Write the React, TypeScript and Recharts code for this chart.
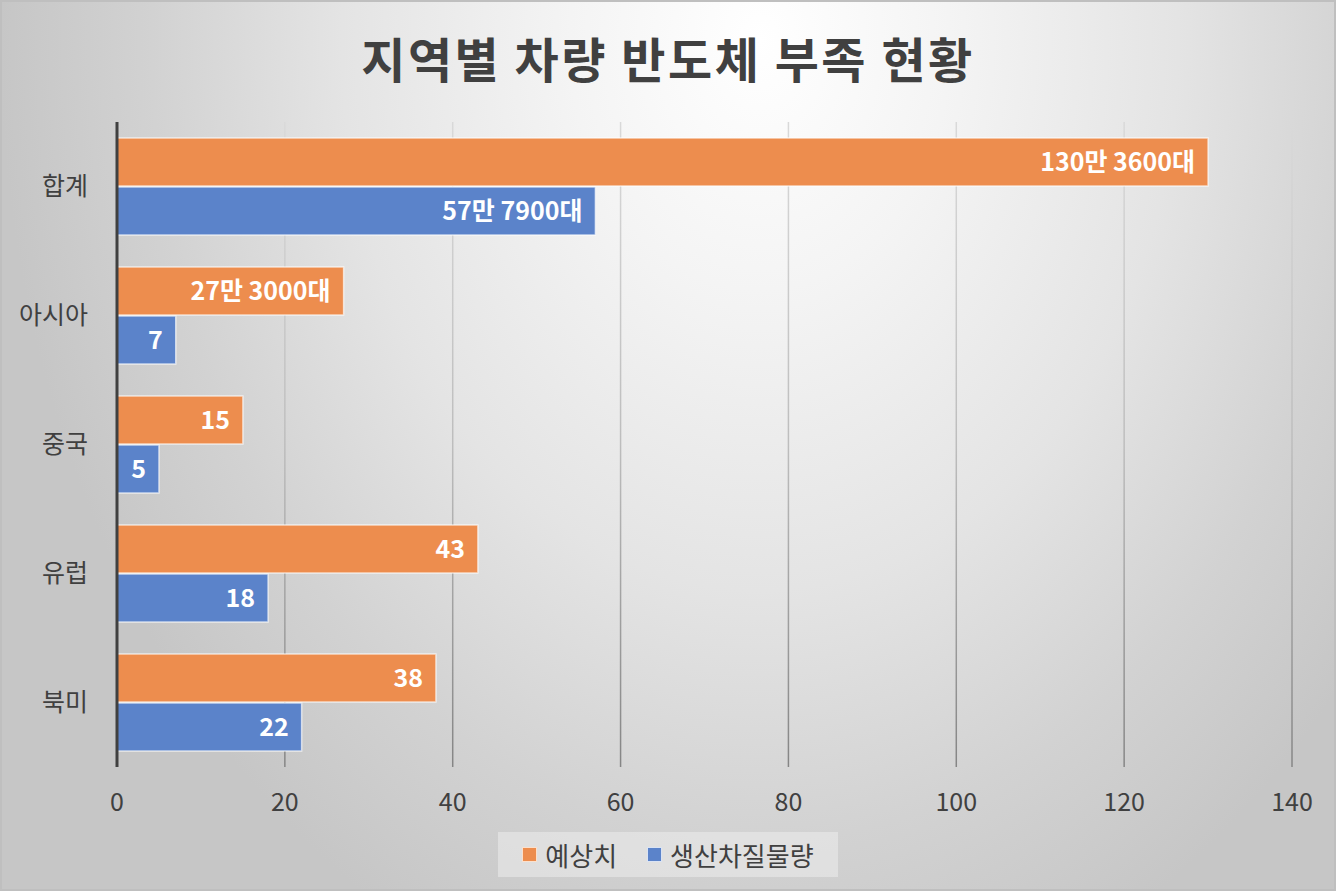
import React from 'react';
import { BarChart, Bar, XAxis, YAxis, CartesianGrid, LabelList } from 'recharts';

const regions = ['합계', '아시아', '중국', '유럽', '북미'];
const forecast = [130, 27, 15, 43, 38];
const forecastLabels = ['130만 3600대', '27만 3000대', '15', '43', '38'];
const shortfall = [57, 7, 5, 18, 22];
const shortfallLabels = ['57만 7900대', '7', '5', '18', '22'];
const xTicks = [0, 20, 40, 60, 80, 100, 120, 140];

const data = regions.map((name, i) => ({
	name,
	forecast: forecast[i],
	forecastLabel: forecastLabels[i],
	shortfall: shortfall[i],
	shortfallLabel: shortfallLabels[i],
}));

const FONT = '"Noto Sans CJK KR", "Noto Sans", sans-serif';
const ORANGE = '#ED8D4E';
const BLUE = '#5B83CA';

const App: React.FC = () => {
	return (
		<div
			style={{
				position: 'absolute',
				left: 0,
				top: 0,
				width: 1336,
				height: 891,
				fontFamily: FONT,
				background:
					'radial-gradient(ellipse 760px 1000px at 760px 40px, #ffffff 0%, #f4f4f4 25%, #e4e4e4 55%, #d2d2d2 80%, #c6c6c6 100%)',
				boxShadow: 'inset 0 0 0 2px #bfbfbf',
				overflow: 'hidden',
			}}
		>
			<div
				style={{
					position: 'absolute',
					left: 0,
					top: 27,
					width: 1336,
					textAlign: 'center',
					fontSize: 48,
					fontWeight: 700,
					letterSpacing: 2.5,
					color: '#404040',
					lineHeight: '60px',
				}}
			>
				지역별 차량 반도체 부족 현황
			</div>
			<BarChart
				width={1336}
				height={891}
				data={data}
				layout="vertical"
				margin={{ top: 122, right: 44, left: 0, bottom: 84 }}
				barCategoryGap={16}
				barGap={1}
				style={{ position: 'absolute', left: 0, top: 0 }}
			>
				<defs>
					<linearGradient id="gridGrad" gradientUnits="userSpaceOnUse" x1="0" y1="122" x2="0" y2="767">
						<stop offset="0%" stopColor="#d9d9d9" />
						<stop offset="50%" stopColor="#bdbdbd" />
						<stop offset="100%" stopColor="#858585" />
					</linearGradient>
				</defs>
				<CartesianGrid horizontal={false} stroke="url(#gridGrad)" strokeWidth={1.5} />
				<XAxis
					type="number"
					domain={[0, 140]}
					ticks={xTicks}
					axisLine={false}
					tickLine={false}
					tickSize={0}
					tickMargin={26}
					height={40}
					tick={{ fontSize: 25, fill: '#404040', fontFamily: FONT }}
				/>
				<YAxis
					type="category"
					dataKey="name"
					width={117}
					axisLine={{ stroke: '#404040', strokeWidth: 3 }}
					tickLine={false}
					tickSize={0}
					tickMargin={29}
					tick={{ fontSize: 25, fill: '#404040', fontFamily: FONT }}
				/>
				<Bar dataKey="forecast" fill={ORANGE} stroke="rgba(255,255,255,0.65)" strokeWidth={1.5} isAnimationActive={false}>
					<LabelList
						dataKey="forecastLabel"
						position="insideRight"
						offset={13}
						fill="#ffffff"
						style={{ fontSize: 25, fontWeight: 700, fontFamily: FONT }}
					/>
				</Bar>
				<Bar dataKey="shortfall" fill={BLUE} stroke="rgba(255,255,255,0.65)" strokeWidth={1.5} isAnimationActive={false}>
					<LabelList
						dataKey="shortfallLabel"
						position="insideRight"
						offset={13}
						fill="#ffffff"
						style={{ fontSize: 25, fontWeight: 700, fontFamily: FONT }}
					/>
				</Bar>
			</BarChart>
			<div
				style={{
					position: 'absolute',
					left: 498,
					top: 832,
					width: 340,
					height: 45,
					background: 'rgba(236,236,236,0.55)',
					display: 'flex',
					alignItems: 'center',
					justifyContent: 'center',
					fontSize: 26,
					color: '#404040',
				}}
			>
				<span style={{ width: 15, height: 15, background: ORANGE, border: '1px solid #fbe0cc', boxSizing: 'border-box', marginRight: 8 }} />
				<span style={{ marginRight: 30 }}>예상치</span>
				<span style={{ width: 15, height: 15, background: BLUE, border: '1px solid #dae3f3', boxSizing: 'border-box', marginRight: 8 }} />
				<span>생산차질물량</span>
			</div>
		</div>
	);
};

export default App;
